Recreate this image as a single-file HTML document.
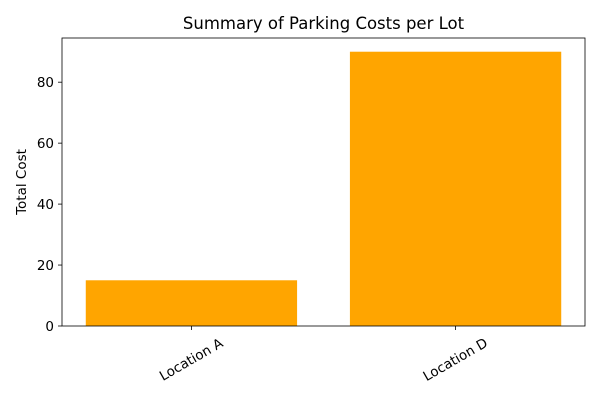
<!DOCTYPE html>
<html><head><meta charset="utf-8"><style>
body{margin:0;background:#fff;}
svg{display:block;font-family:"DejaVu Sans","Liberation Sans",sans-serif;}
</style></head><body>
<svg id="chart" width="600" height="400"></svg>
<script>
const categories = ["Location A", "Location D"];
const values = [15, 90];
const yTicks = [0, 20, 40, 60, 80];
const NS = "http://www.w3.org/2000/svg";
const svg = document.getElementById("chart");
const L = 62, R = 585, T = 38, B = 326;
const yMax = 94.5;
const xMin = -0.49, xMax = categories.length - 1 + 0.49;
function ys(v){ return B - (v / yMax) * (B - T); }
function xs(i){ return L + (i - xMin) / (xMax - xMin) * (R - L); }
function mk(tag, attrs, parent){ const e = document.createElementNS(NS, tag); for (const k in attrs) e.setAttribute(k, attrs[k]); (parent || svg).appendChild(e); return e; }
const bw = 0.8 * (R - L) / (xMax - xMin);
categories.forEach((c, i) => {
  const r = mk("rect", {x: xs(i) - bw / 2, y: ys(values[i]), width: bw, height: ys(0) - ys(values[i]), fill: "#ffa500"});
  
  
  mk("line", {x1: xs(i), x2: xs(i), y1: B, y2: B + 4, stroke: "#000", "stroke-width": 0.8});
  const cx = xs(i), cy = B + 34;
  const t = mk("text", {x: cx, y: cy, "font-size": 13.5, "text-anchor": "middle", "dominant-baseline": "central", transform: `rotate(-30 ${cx} ${cy})`});
  t.textContent = c;
  
  
});
yTicks.forEach(v => {
  mk("line", {x1: L - 4, x2: L, y1: ys(v), y2: ys(v), stroke: "#000", "stroke-width": 0.8});
  const t = mk("text", {x: L - 8, y: ys(v) + 5, "font-size": 13.5, "text-anchor": "end"});
  t.textContent = v;
  
  
});
const frame = mk("rect", {x: L, y: T, width: R - L, height: B - T, fill: "none", stroke: "#000", "stroke-width": 0.8});


const title = mk("text", {x: (L + R) / 2, y: 29, "font-size": 16.5, "text-anchor": "middle"});
title.textContent = "Summary of Parking Costs per Lot";


const yl = mk("text", {x: 26, y: (T + B) / 2, "font-size": 13.5, "text-anchor": "middle", transform: `rotate(-90 26 ${(T + B) / 2})`});
yl.textContent = "Total Cost";


</script>
</body></html>
